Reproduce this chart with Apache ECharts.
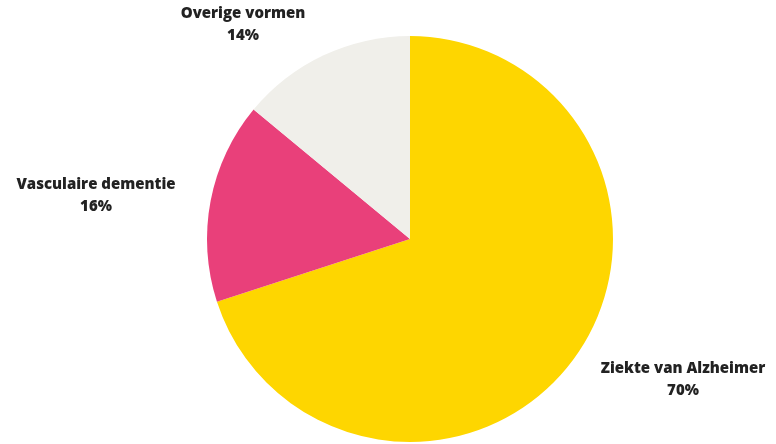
<!doctype html>
<html lang="nl">
<head>
    <meta charset="UTF-8">
    <script src="https://cdn.jsdelivr.net/npm/echarts@6/dist/echarts.min.js"></script>
    <title>Vormen van dementie</title>
    <style>
        html, body { margin: 0; padding: 0; background: #fff; }
    </style>
</head>
<body>
<div id="main" style="width: 776px;height:444px;"></div>
<script>
    // data
    var names = ['Ziekte van Alzheimer', 'Vasculaire dementie', 'Overige vormen'];
    var values = [70, 16, 14];
    var colors = ['#fed600', '#e9407a', '#f0efea'];

    // waar de labels staan (midden van het tekstblok)
    var labelPos = [[683, 380], [96, 196], [243, 25]];

    var myChart = echarts.init(document.getElementById('main'));

    var pieData = [];
    for (var i = 0; i < names.length; i++) {
        pieData.push({
            name: names[i],
            value: values[i],
            itemStyle: { color: colors[i] }
        });
    }

    var option = {
        animation: false,
        series: [
            {
                type: 'pie',
                center: [410, 239],
                radius: 203,
                startAngle: 90,
                clockwise: true,
                data: pieData,
                itemStyle: { borderWidth: 0 },
                label: {
                    show: true,
                    position: 'outside',
                    formatter: '{b}\n{c}%',
                    fontFamily: 'Open Sans',
                    fontWeight: 800,
                    fontSize: 15,
                    lineHeight: 22,
                    color: '#222',
                    overflow: 'none'
                },
                labelLine: { show: false },
                labelLayout: function (params) {
                    var p = labelPos[params.dataIndex];
                    return {
                        x: p[0],
                        y: p[1],
                        align: 'center',
                        verticalAlign: 'middle'
                    };
                }
            }
        ]
    };

    myChart.setOption(option);
</script>
</body>
</html>
